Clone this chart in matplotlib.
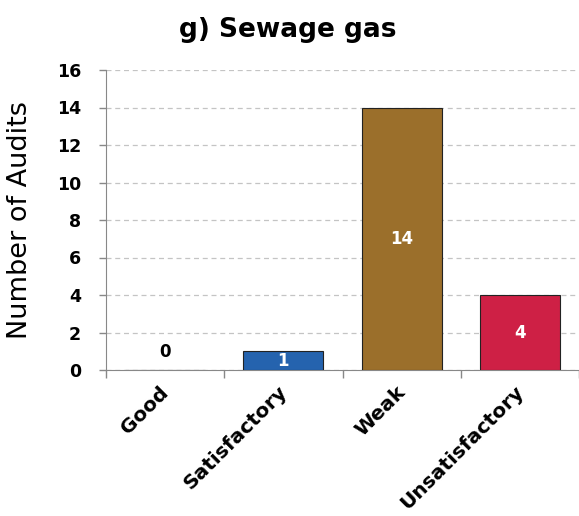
import numpy as np
import matplotlib.pyplot as plt

categories = ["Good", "Satisfactory", "Weak", "Unsatisfactory"]
audits = [0, 1, 14, 4]
bar_colors = ["#2563AE", "#2563AE", "#9B6F2B", "#CE2045"]
y_ticks = [0, 2, 4, 6, 8, 10, 12, 14, 16]

fig = plt.figure(figsize=(5.79, 5.16), dpi=100)
ax = fig.add_axes([106 / 579, 1 - 370 / 516, (579 - 106) / 579, 300 / 516])

x = np.arange(len(categories))
bars = ax.bar(x, audits, width=0.675, color=bar_colors, edgecolor="#222222", linewidth=0.8, zorder=3)

for xi, v in zip(x, audits):
    if v > 0:
        ax.text(xi, v / 2, str(v), ha="center", va="center", color="white",
                fontsize=12, fontweight="bold", zorder=4)
    else:
        ax.annotate(str(v), (xi, v), xytext=(0, 13), textcoords="offset points",
                    ha="center", va="center", fontsize=12, fontweight="bold")

ax.set_xlim(-0.5, len(categories) - 0.5)
ax.set_ylim(0, 16)
ax.set_yticks(y_ticks)
ax.set_yticklabels([str(t) for t in y_ticks], fontsize=12.5, fontweight="bold")
# label anchors sit slightly left of the bar centres (ticks themselves are hidden)
ax.set_xticks(x - 0.05)
ax.set_xticklabels(categories, rotation=45, ha="right", rotation_mode="anchor",
                   fontsize=14.5, fontweight="bold")
ax.tick_params(axis="x", length=0, pad=9)
ax.set_xticks(np.arange(-0.5, len(categories), 1), minor=True)
ax.tick_params(axis="x", which="minor", length=6, color="#888888", width=1)
ax.tick_params(axis="y", length=5, color="#888888", width=1, pad=13)

ax.yaxis.grid(True, linestyle=(0, (4, 3)), color="#C4C4C4", linewidth=0.9, zorder=0)
ax.set_axisbelow(True)

for side in ["top", "right"]:
    ax.spines[side].set_visible(False)
ax.spines["left"].set_color("#888888")
ax.spines["bottom"].set_color("#888888")

ax.set_ylabel("Number of Audits", fontsize=19.5)
ax.yaxis.set_label_coords(-73 / 473, 0.5)
fig.suptitle("g) Sewage gas", x=0.497, y=1 - 30 / 516, va="center",
             fontsize=19, fontweight="bold")

fig.savefig("out.png", dpi=100)
